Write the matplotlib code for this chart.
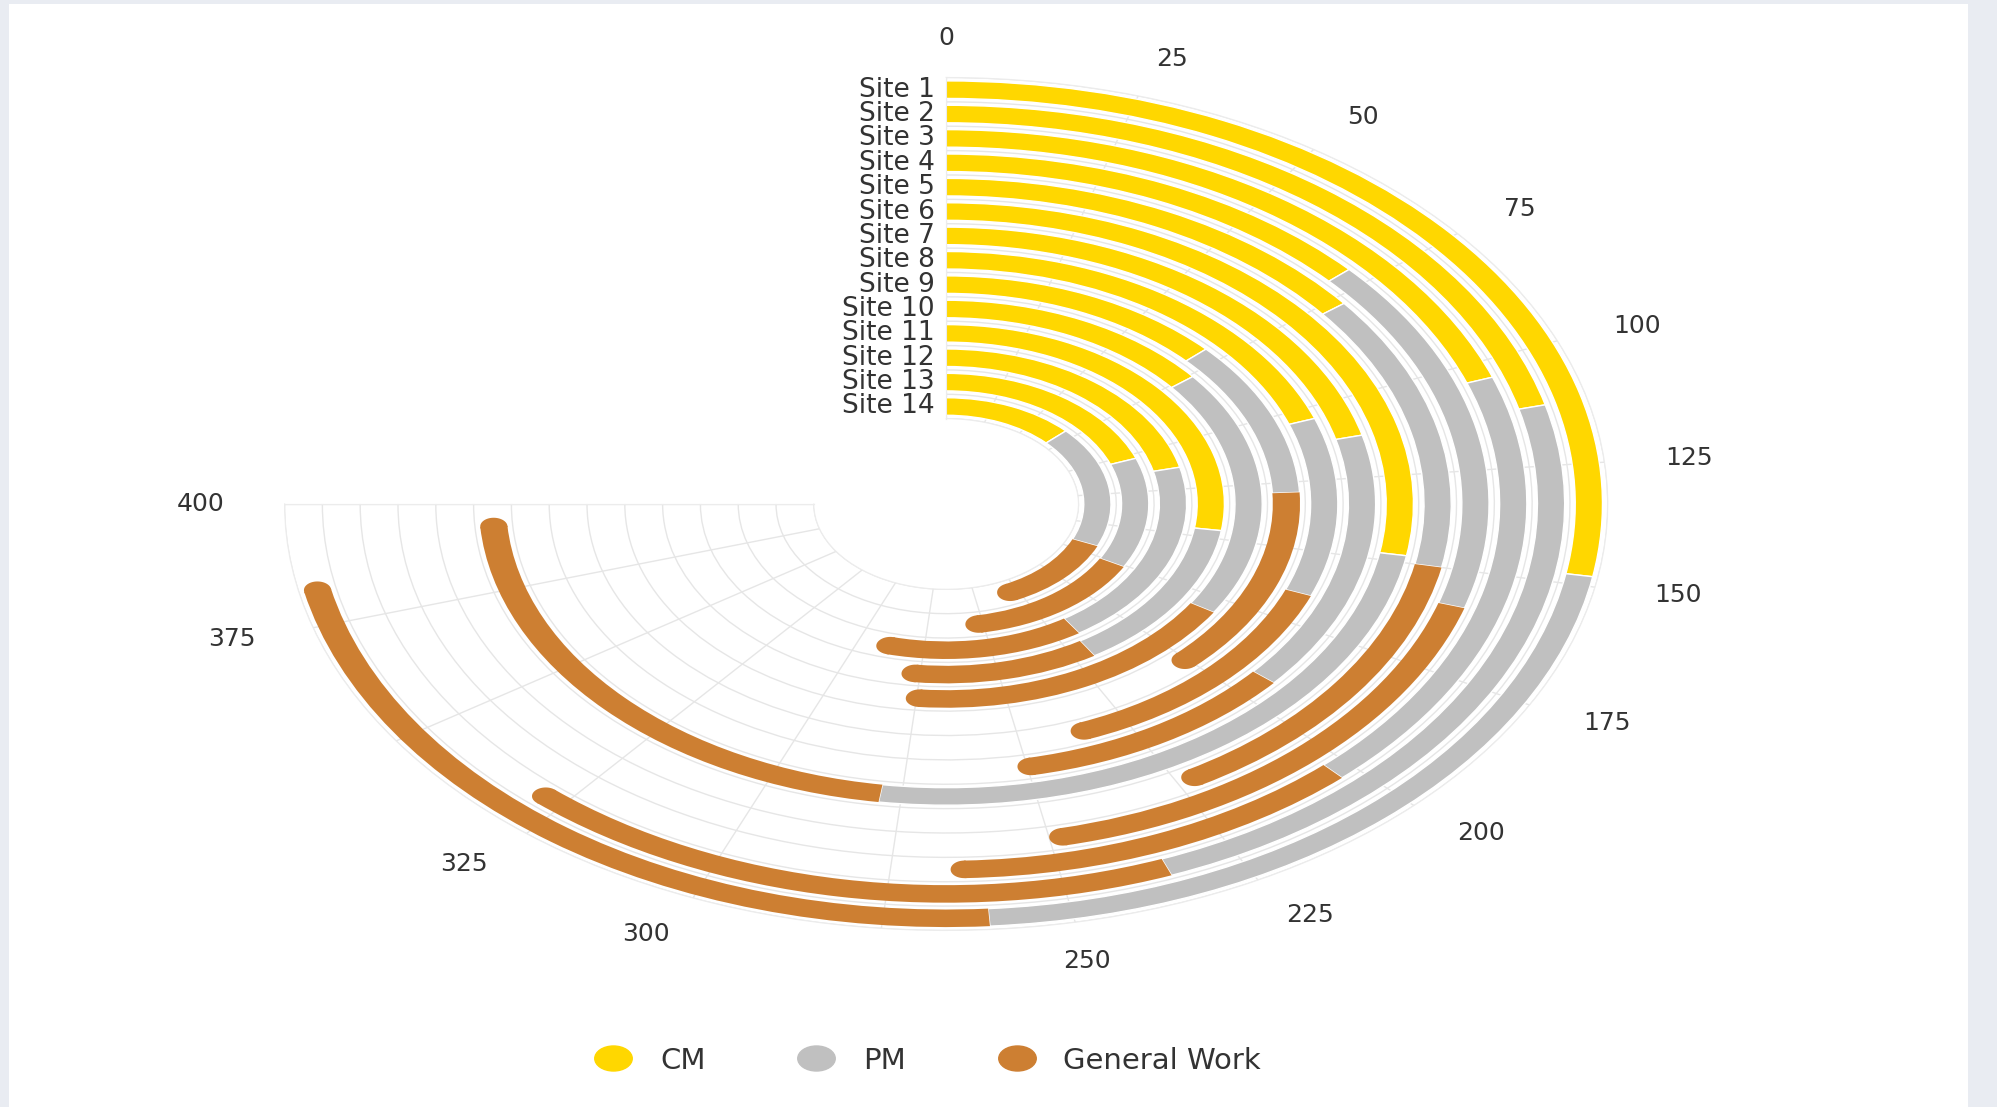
"""
Radial stacked bar chart: CM / PM / General Work per site.
"""
import matplotlib.pyplot as plt
import numpy as np
from matplotlib.lines import Line2D
from matplotlib.patches import Rectangle
from matplotlib.path import Path
from matplotlib.transforms import Affine2D

plt.rcParams['font.family'] = ['DejaVu Sans']

sites = ["Site 1", "Site 2", "Site 3", "Site 4", "Site 5", "Site 6", "Site 7",
         "Site 8", "Site 9", "Site 10", "Site 11", "Site 12", "Site 13", "Site 14"]
cm = [148, 112, 104, 71, 77, 148, 112, 104, 70, 76, 146, 113, 103, 69]
pm = [113, 123, 99, 88, 73, 131, 81, 61, 59, 105, 73, 104, 73, 99]
general_work = [123, 95, 63, 91, 74, 117, 59, 73, 75, 97, 62, 76, 82, 69]

series_names = ["CM", "PM", "General Work"]
colors = ["#FFD700", "#C0C0C0", "#CD7F32"]

angle_ticks = list(range(0, 425, 25))
hidden_ticks = [275, 350]

VMAX = 400
SPAN = 1.5 * np.pi      # pane goes from 0 to 270 degrees
R0 = -3.5               # radial origin -> inner hole of 20 %
BAR_H = 0.72
TEXT = "#333333"


def to_theta(v):
    return np.asarray(v, dtype=float) / VMAX * SPAN


def round_cap(ax, theta_end, r, color):
    """half disc at the end of a bar, built in data coords so it follows the pane"""
    half = BAR_H / 2
    back = 0.15 * half / (r - R0)   # small overlap with the bar body, hides the seam
    phi = np.linspace(-np.pi / 2, np.pi / 2, 40)
    th = theta_end + half * np.cos(phi) / (r - R0)
    rr = r + half * np.sin(phi)
    th = np.concatenate([[theta_end - back], th, [theta_end - back]])
    rr = np.concatenate([[r - half], rr, [r + half]])
    ax.fill(th, rr, color=color, lw=0, zorder=3)


fig = plt.figure(figsize=(19.97, 11.07), dpi=100, facecolor="#e9ecf2")
fig.add_artist(Rectangle((9 / 1997, 0), (1968 - 9) / 1997, 1 - 4 / 1107,
                         transform=fig.transFigure, facecolor="white",
                         edgecolor="none", zorder=-1))

ax = fig.add_axes([0.1425, 0.152, 0.669, 0.778], projection="polar")
ax.set_theta_zero_location("N")
ax.set_theta_direction(-1)
ax.set_thetamin(0)
ax.set_thetamax(270)
ax.set_ylim(0, 14)
ax.set_rorigin(R0)
ax.set_aspect("auto")
ax.set_facecolor("white")

ax.set_xticks(to_theta(angle_ticks))
ax.set_xticklabels([])
ax.set_yticks(np.arange(0, 15))
ax.set_yticklabels([])
ax.tick_params(length=0)
ax.set_axisbelow(True)
ax.grid(True, color="#e6e6e6", linewidth=1)
for sp in ax.spines.values():
    sp.set_color("#ececec")

radii = 13.5 - np.arange(len(sites))
stack = np.zeros(len(sites))
all_series = [cm, pm, general_work]
for k, (vals, col) in enumerate(zip(all_series, colors)):
    vals = np.asarray(vals, dtype=float)
    start = to_theta(stack)
    width = to_theta(vals)
    if k < len(all_series) - 1:
        ax.bar(start, BAR_H, width=width, bottom=radii - BAR_H / 2, align="edge",
               color=col, edgecolor="white", linewidth=1, zorder=2)
    else:
        # last piece of each stack gets the rounded end
        cap = (BAR_H / 2) / (radii - R0)
        ax.bar(start, BAR_H, width=width - cap, bottom=radii - BAR_H / 2,
               align="edge", color=col, edgecolor="none", linewidth=0, zorder=2)
        for th_end, r in zip(start + width - cap, radii):
            round_cap(ax, th_end, r, col)
    stack += vals

# site labels next to the 0 line
for name, r in zip(sites, radii):
    ax.annotate(name, xy=(0, r), xytext=(-8, 0), textcoords="offset points",
                ha="right", va="center", fontsize=19, color=TEXT,
                annotation_clip=False)

# angular labels
for v in angle_ticks:
    if v in hidden_ticks:
        continue
    th = float(to_theta(v))
    s = np.sin(th)
    ha = "left" if s > 0.25 else ("right" if s < -0.25 else "center")
    ax.text(th, 15.6, str(v), ha=ha, va="center", fontsize=18, color=TEXT)

ell = Path.unit_circle().transformed(Affine2D().scale(1.5, 1.0))
handles = [Line2D([], [], linestyle="none", marker=ell, markersize=27,
                  markerfacecolor=c, markeredgecolor=c) for c in colors]
fig.legend(handles, series_names, loc="center", bbox_to_anchor=(0.462, 0.042),
           ncol=3, frameon=False, fontsize=21, handletextpad=0.6,
           columnspacing=2.8, labelcolor=TEXT)

fig.savefig("out.png", dpi=100, facecolor=fig.get_facecolor())
